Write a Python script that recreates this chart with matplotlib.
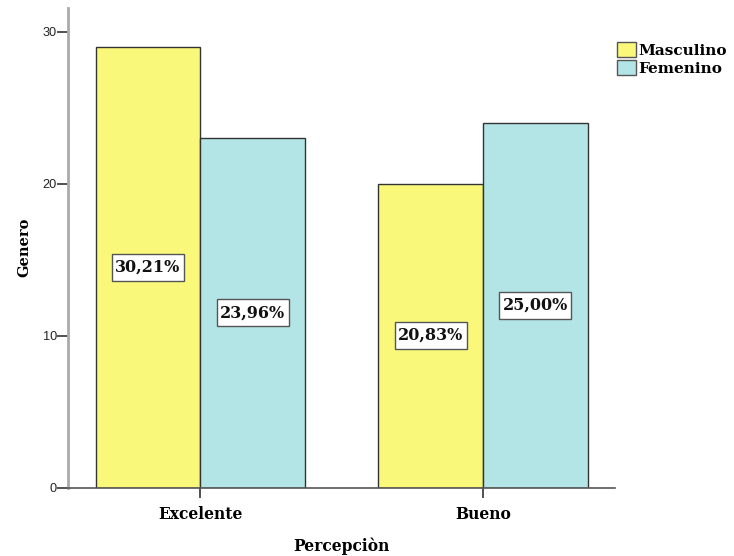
import matplotlib
matplotlib.use("Agg")
import matplotlib.pyplot as plt
import numpy as np
from matplotlib.patches import Patch, Rectangle
from matplotlib.transforms import IdentityTransform

categories = ["Excelente", "Bueno"]
series_names = ["Masculino", "Femenino"]
masculino = [29, 20]
femenino = [23, 24]
masc_labels = ["30,21%", "20,83%"]
fem_labels = ["23,96%", "25,00%"]
yticks = [0, 10, 20, 30]

colors = ["#FAF87A", "#B3E5E6"]
serif = ["DejaVu Serif"]
sans = ["Liberation Sans", "DejaVu Sans"]

fig = plt.figure(figsize=(7.34, 5.56), dpi=100)
ax = fig.add_axes([0.0926, 0.1232, 0.838 - 0.0926, 0.9856 - 0.1232])

x = np.arange(len(categories))
w = 0.37
b1 = ax.bar(x - w / 2, masculino, w, color=colors[0], edgecolor="#333333", linewidth=1.0)
b2 = ax.bar(x + w / 2, femenino, w, color=colors[1], edgecolor="#333333", linewidth=1.0)

texts = []
for bars, labels in ((b1, masc_labels), (b2, fem_labels)):
    for rect, lab in zip(bars, labels):
        t = ax.text(rect.get_x() + rect.get_width() / 2, rect.get_height() / 2, lab,
                    ha="center", va="center", fontsize=11.5, fontweight="bold", family=serif,
                    color="#111111", zorder=6)
        texts.append(t)

ax.set_xlim(-0.468, 1.467)
ax.set_ylim(0, 31.56)
ax.set_yticks(yticks)
ax.set_xticks(x)
ax.set_xticklabels(categories, fontsize=11.2, fontweight="bold", family=serif)
for t in ax.get_yticklabels():
    t.set_family(sans)
    t.set_fontsize(9.2)
    t.set_color("#222222")

for s in ["top", "right"]:
    ax.spines[s].set_visible(False)
ax.spines["left"].set_color("#AAAAAA")
ax.spines["left"].set_linewidth(2.0)
ax.spines["bottom"].set_color("#555555")
ax.spines["bottom"].set_linewidth(1.2)
ax.tick_params(axis="y", length=8, width=1.2, color="#333333", pad=0)
ax.tick_params(axis="x", length=7, width=1.2, color="#333333", pad=6)

ax.set_ylabel("Genero", fontsize=10.5, fontweight="bold", family=serif, labelpad=8)
ax.set_xlabel("Percepciòn", fontsize=11.2, fontweight="bold", family=serif, labelpad=11)

handles = [Patch(facecolor=colors[0], edgecolor="#555555", linewidth=1.0, label=series_names[0]),
           Patch(facecolor=colors[1], edgecolor="#555555", linewidth=1.0, label=series_names[1])]
leg = fig.legend(handles=handles, loc="upper left", bbox_to_anchor=(0.8406, 0.925), frameon=False,
                 prop={"family": serif, "weight": "bold", "size": 11},
                 handlelength=1.25, handleheight=1.2, handletextpad=0.12, labelspacing=0.12,
                 borderpad=0.0, borderaxespad=0.0)

# white label boxes sized from the rendered text extents
fig.canvas.draw()
renderer = fig.canvas.get_renderer()
for t in texts:
    bb = t.get_window_extent(renderer)
    cx, cy = (bb.x0 + bb.x1) / 2, (bb.y0 + bb.y1) / 2
    bw, bh = bb.width + 7, 27
    r = Rectangle((cx - bw / 2, cy - bh / 2), bw, bh, transform=IdentityTransform(),
                  facecolor="white", edgecolor="#555555", linewidth=1.0, zorder=5)
    ax.add_artist(r)

fig.savefig("out.png", dpi=100)
